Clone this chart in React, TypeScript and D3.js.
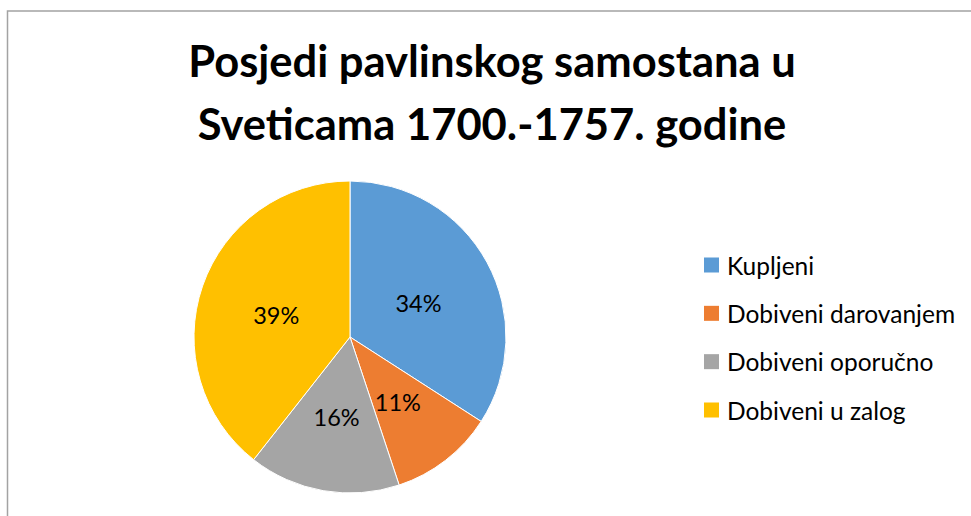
import React, { useEffect, useRef } from "react";
import * as d3 from "d3";

const width = 971;
const height = 516;

const titleLines = ["Posjedi pavlinskog samostana u", "Sveticama 1700.-1757. godine"];
const categories = ["Kupljeni", "Dobiveni darovanjem", "Dobiveni oporučno", "Dobiveni u zalog"];
const values = [34.1, 10.8, 15.7, 39.4];
const colors = ["#5B9BD5", "#ED7D31", "#A5A5A5", "#FFC000"];

const FONT = "Lato, 'Open Sans', sans-serif";

const App = () => {
  const ref = useRef<SVGSVGElement>(null);

  useEffect(() => {
    const svg = d3.select(ref.current);
    svg.selectAll("*").remove();

    // chart frame
    svg
      .append("rect")
      .attr("x", 7.5)
      .attr("y", 11)
      .attr("width", width + 20)
      .attr("height", height + 20)
      .attr("fill", "#fff")
      .attr("stroke", "#a3a3a3")
      .attr("stroke-width", 1.5);

    // title
    svg
      .append("g")
      .selectAll("text")
      .data(titleLines)
      .join("text")
      .attr("x", 492)
      .attr("y", (d, i) => 77 + i * 63)
      .attr("text-anchor", "middle")
      .attr("font-family", FONT)
      .attr("font-weight", 700)
      .attr("font-size", 43.5)
      .attr("fill", "#000")
      .text((d) => d);

    // pie
    const radius = 156;
    const total = d3.sum(values);
    const pie = d3.pie<number>().sort(null).value((d) => d);
    const arcs = pie(values);
    const arc = d3.arc<d3.PieArcDatum<number>>().innerRadius(0).outerRadius(radius);
    const color = d3.scaleOrdinal<number, string>().domain(d3.range(values.length)).range(colors);

    const pieGroup = svg.append("g").attr("transform", `translate(350,337)`);

    pieGroup
      .selectAll("path")
      .data(arcs)
      .join("path")
      .attr("d", arc)
      .attr("fill", (d, i) => color(i))
      .attr("stroke", "#fff")
      .attr("stroke-width", 1);

    pieGroup
      .selectAll("text")
      .data(arcs)
      .join("text")
      .attr("transform", (d) => {
        const [x, y] = arc.centroid(d);
        return `translate(${x},${y + 3})`;
      })
      .attr("text-anchor", "middle")
      .attr("dominant-baseline", "central")
      .attr("font-family", FONT)
      .attr("font-size", 23.5)
      .attr("fill", "#000")
      .text((d) => `${Math.round((d.value / total) * 100)}%`);

    // legend
    const legendY = d3.scalePoint<string>().domain(categories).range([265, 410]);
    const legend = svg
      .append("g")
      .selectAll("g")
      .data(categories)
      .join("g")
      .attr("transform", (d) => `translate(704,${legendY(d)})`);

    legend
      .append("rect")
      .attr("x", 0)
      .attr("y", -7.5)
      .attr("width", 15)
      .attr("height", 15)
      .attr("fill", (d, i) => color(i));

    legend
      .append("text")
      .attr("x", 23)
      .attr("y", 0)
      .attr("dominant-baseline", "central")
      .attr("font-family", FONT)
      .attr("font-size", 24.5)
      .attr("fill", "#000")
      .text((d) => d);
  }, []);

  return (
    <svg
      ref={ref}
      width={width}
      height={height}
      style={{ position: "absolute", left: 0, top: 0, display: "block" }}
    ></svg>
  );
};

export default App;
